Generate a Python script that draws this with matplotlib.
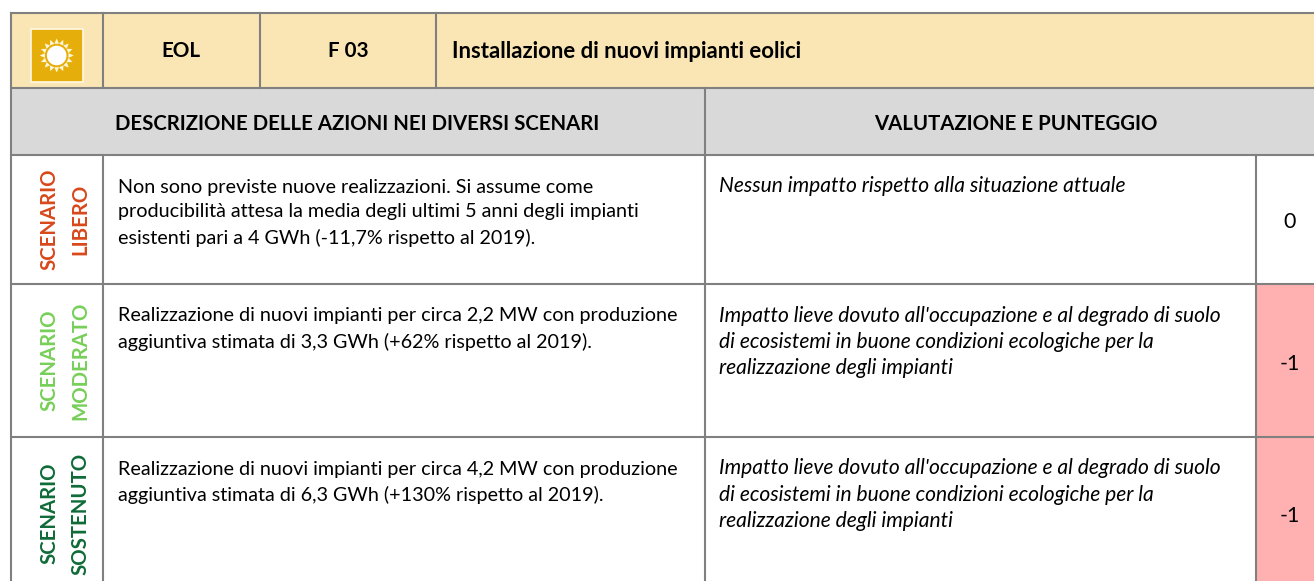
import math
import matplotlib
matplotlib.use("Agg")
import matplotlib.pyplot as plt
from matplotlib.patches import Rectangle, Circle, Polygon

W, H = 1314, 581
plt.rcParams['font.family'] = ['Lato', 'DejaVu Sans']

header_codes = ["EOL", "F 03"]
header_title = "Installazione di nuovi impianti eolici"
section_titles = ["DESCRIZIONE DELLE AZIONI NEI DIVERSI SCENARI", "VALUTAZIONE E PUNTEGGIO"]
scenario_names = ["SCENARIO\nLIBERO", "SCENARIO\nMODERATO", "SCENARIO\nSOSTENUTO"]
scenario_colors = ["#D8481B", "#77CF58", "#0F6B38"]
descriptions = [
    "Non sono previste nuove realizzazioni. Si assume come\nproducibilità attesa la media degli ultimi 5 anni degli impianti\nesistenti pari a 4 GWh (-11,7% rispetto al 2019).",
    "Realizzazione di nuovi impianti per circa 2,2 MW con produzione\naggiuntiva stimata di 3,3 GWh (+62% rispetto al 2019).",
    "Realizzazione di nuovi impianti per circa 4,2 MW con produzione\naggiuntiva stimata di 6,3 GWh (+130% rispetto al 2019).",
]
evaluations = [
    "Nessun impatto rispetto alla situazione attuale",
    "Impatto lieve dovuto all'occupazione e al degrado di suolo\ndi ecosistemi in buone condizioni ecologiche per la\nrealizzazione degli impianti",
    "Impatto lieve dovuto all'occupazione e al degrado di suolo\ndi ecosistemi in buone condizioni ecologiche per la\nrealizzazione degli impianti",
]
scores = [0, -1, -1]

cols = [10.5, 103, 260, 436, 705, 1256, 1316]
rows = [12.5, 88, 155, 284, 437, 590]
GRID = "#808080"
HEAD = "#FAE5B4"
SECT = "#D9D9D9"
NEG = "#FFB0B0"
LW = 1.5

fig = plt.figure(figsize=(W / 100, H / 100), dpi=100)
ax = fig.add_axes([0, 0, 1, 1])
ax.set_xlim(0, W)
ax.set_ylim(H, 0)
ax.axis("off")


def rect(x0, y0, x1, y1, color):
    ax.add_patch(Rectangle((x0, y0), x1 - x0, y1 - y0, fc=color, ec="none", zorder=1))


def line(x0, y0, x1, y1):
    ax.plot([x0, x1], [y0, y1], color=GRID, lw=LW, solid_capstyle="projecting", zorder=3)


rect(cols[0], rows[0], W + 2, rows[1], HEAD)
rect(cols[0], rows[1], W + 2, rows[2], SECT)
for i, s in enumerate(scores):
    if s < 0:
        rect(cols[5], rows[i + 2], W + 2, rows[i + 3], NEG)

for y in rows:
    line(cols[0], y, W + 2, y)
line(cols[0], rows[0], cols[0], rows[-1])
for x in cols[1:4]:
    line(x, rows[0], x, rows[1])
line(cols[1], rows[2], cols[1], rows[-1])
line(cols[4], rows[1], cols[4], rows[-1])
line(cols[5], rows[2], cols[5], rows[-1])

# sun icon
ax.add_patch(Rectangle((30.5, 28.5), 52, 53, fc="#E6AE0A", ec="#FFF8E6", lw=1.2, zorder=4))
cx, cy = 56.7, 55.5
ax.add_patch(Circle((cx, cy), 9.8, fc="white", ec="none", zorder=5))
for k in range(16):
    a = 2 * math.pi * k / 16
    r0, r1 = 12, 17
    d = 0.2
    ax.add_patch(Polygon([(cx + r0 * math.cos(a - d), cy + r0 * math.sin(a - d)),
                          (cx + r0 * math.cos(a + d), cy + r0 * math.sin(a + d)),
                          (cx + r1 * math.cos(a), cy + r1 * math.sin(a))],
                         fc="#FFF6D8", ec="none", zorder=5))

HB = 14.9
kw = dict(va="center", fontweight="bold", color="black")
ax.text(181, 51, header_codes[0], ha="center", fontsize=HB, **kw)
ax.text(348, 51, header_codes[1], ha="center", fontsize=HB, **kw)
ax.text(452, 51, header_title, ha="left", fontsize=15.9, **kw)
ax.text(357.5, 124.5, section_titles[0], ha="center", fontsize=14.7, **kw)
ax.text(1015.5, 124.5, section_titles[1], ha="center", fontsize=14.7, **kw)

for i in range(3):
    y0, y1 = rows[i + 2], rows[i + 3]
    ax.text(65, (y0 + y1) / 2, scenario_names[i], rotation=90, ha="center", va="center",
            multialignment="center", fontsize=14.7, fontweight="bold", color=scenario_colors[i], linespacing=1.65)
    ax.text(118, y0 + 23.5, descriptions[i], ha="left", va="top", fontsize=14.2, color="black", linespacing=1.55)
    ax.text(719, y0 + 21.5, evaluations[i], ha="left", va="top", fontsize=15.1, style="italic", color="black", linespacing=1.38)
    ax.text(1290, (y0 + y1) / 2 + 3, str(scores[i]), ha="center", va="center", fontsize=15.5, color="black")

fig.savefig("out.png", dpi=100)
